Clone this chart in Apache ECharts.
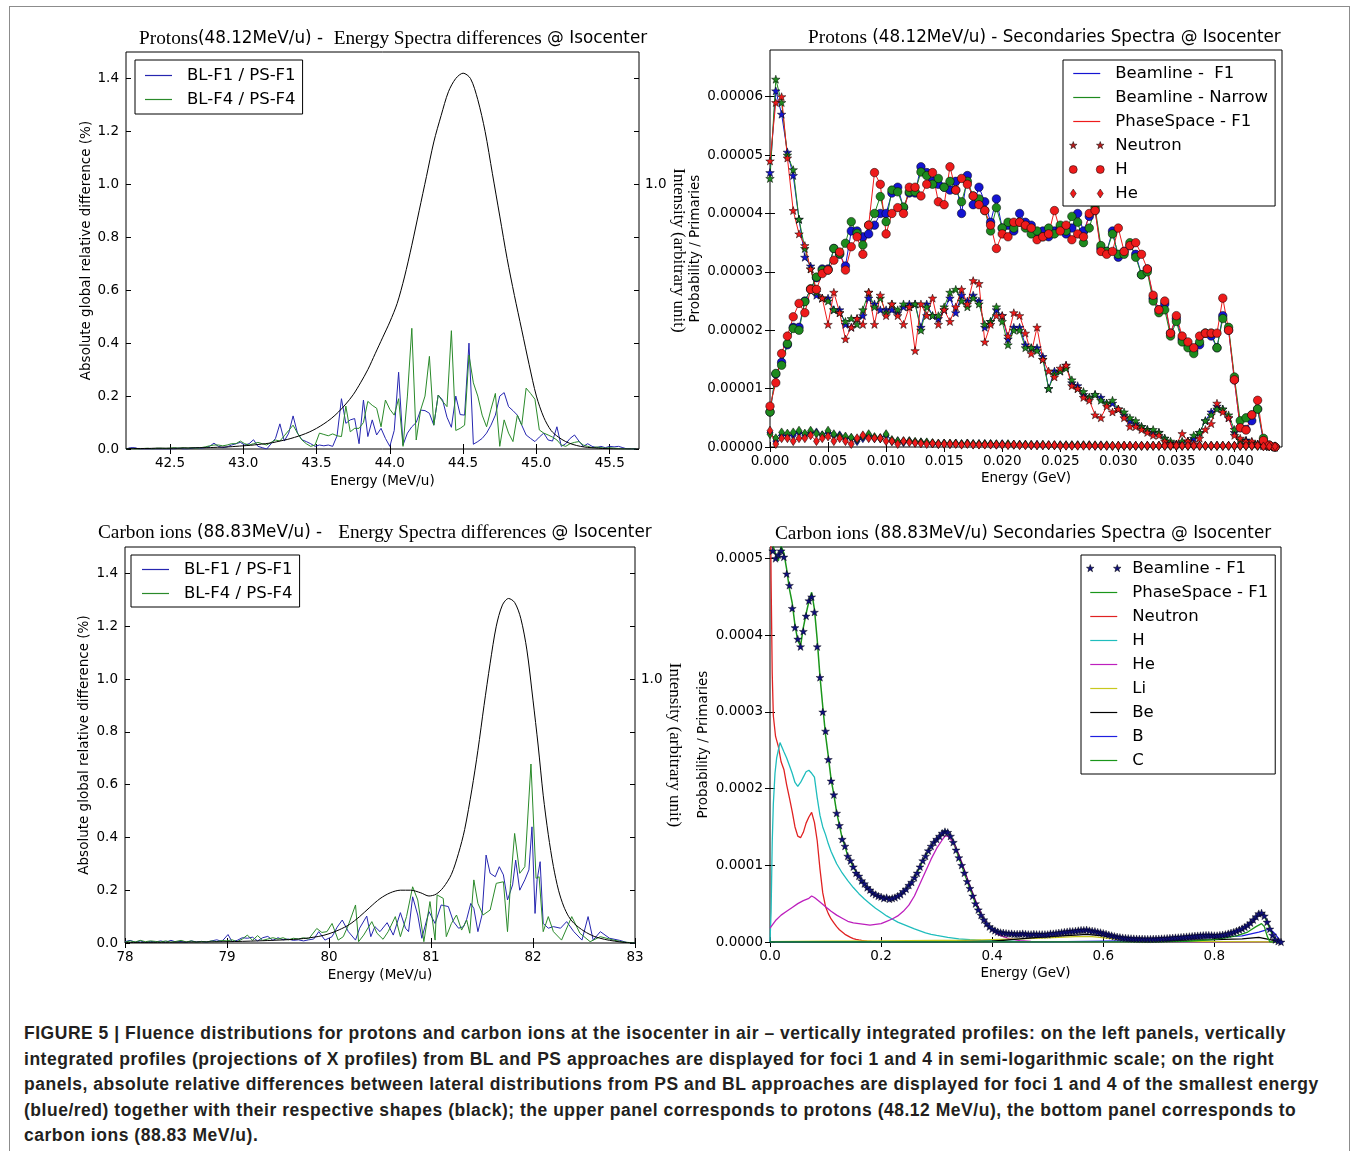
<!DOCTYPE html>
<html>
<head>
<meta charset="utf-8">
<title>Figure 5</title>
<script src="https://cdn.jsdelivr.net/npm/echarts@6/dist/echarts.min.js"></script>
<style>
  html, body { margin: 0; padding: 0; background: #fff; }
  body { width: 1357px; height: 1151px; position: relative; overflow: hidden; }
  .frame { position: absolute; left: 9px; top: 6px; width: 1341px; height: 1160px; border: 1px solid #8c8c8c; box-sizing: border-box; }
  #chart { position: absolute; left: 0; top: 0; width: 1357px; height: 1000px; }
  .caption { position: absolute; left: 24px; top: 1021px; font-family: "Liberation Sans", Arial, sans-serif; font-weight: bold; font-size: 17.5px; letter-spacing: 0.52px; line-height: 25.5px; color: #231f20; white-space: nowrap; }
</style>
</head>
<body>
<div class="frame"></div>
<div id="chart"></div>
<div class="caption">FIGURE 5 | Fluence distributions for protons and carbon ions at the isocenter in air – vertically integrated profiles: on the left panels, vertically<br>integrated profiles (projections of X profiles) from BL and PS approaches are displayed for foci 1 and 4 in semi-logarithmic scale; on the right<br>panels, absolute relative differences between lateral distributions from PS and BL approaches are displayed for foci 1 and 4 of the smallest energy<br>(blue/red) together with their respective shapes (black); the upper panel corresponds to protons (48.12 MeV/u), the bottom panel corresponds to<br>carbon ions (88.83 MeV/u).</div>
<script>
const SANS = 'DejaVu Sans'
const SERIF = 'Liberation Serif'

// top left: protons, relative differences (%), bins of 0.03 MeV/u from 42.2
const protonStart = 42.2
const protonStep = 0.03
const protonDiffF1 = [
  0, 0.005, 0.005, 0, 0, 0, 0, 0, 0, 0,
  0, 0, 0.003, 0, 0, 0.003, 0.005, 0.003, 0.005, 0.01,
  0.022, 0.01, 0.005, 0.008, 0.015, 0.02, 0.025, 0.015, 0.02, 0.035,
  0.01, 0.005, 0, 0.02, 0.04, 0.095, 0.03, 0.06, 0.125, 0.06,
  0.035, 0.028, 0.02, 0.01, 0.015, 0.012, 0.015, 0.01, 0.05, 0.19,
  0.097, 0.11, 0.115, 0.02, 0.185, 0.047, 0.11, 0.053, 0.078, 0.04,
  0.01, 0.07, 0.29, 0.015, 0.06, 0.084, 0.1, 0.147, 0.145, 0.135,
  0.09, 0.204, 0.185, 0.12, 0.082, 0.2, 0.13, 0.128, 0.40, 0.018,
  0.028, 0.04, 0.06, 0.09, 0.128, 0.2, 0.213, 0.16, 0.145, 0.128,
  0.09, 0.053, 0.04, 0.028, 0.045, 0.06, 0.034, 0.03, 0.084, 0.01,
  0.02, 0.04, 0.053, 0.03, 0.01, 0.02, 0.01, 0.005, 0.01, 0.005,
  0.01, 0.008, 0.01, 0.005, 0, 0, 0
]
const protonDiffF4 = [
  0, 0.002, 0, 0, 0.002, 0.003, 0, 0.003, 0.003, 0.002,
  0.003, 0.005, 0.003, 0.005, 0.003, 0.005, 0.003, 0.005, 0.008, 0.012,
  0.015, 0.015, 0.012, 0.015, 0.02, 0.02, 0.03, 0.02, 0.015, 0.02,
  0.025, 0.02, 0.015, 0.025, 0.034, 0.03, 0.05, 0.07, 0.09, 0.06,
  0.034, 0.02, 0.01, 0.015, 0.06, 0.055, 0.05, 0.057, 0.05, 0.047,
  0.162, 0.065, 0.078, 0.078, 0.1, 0.18, 0.165, 0.154, 0.084, 0.185,
  0.15, 0.128, 0.19, 0.01, 0.2, 0.456, 0.034, 0.147, 0.2, 0.35,
  0.09, 0.204, 0.18, 0.16, 0.447, 0.07, 0.078, 0.09, 0.355, 0.25,
  0.2, 0.128, 0.084, 0.15, 0.21, 0.01, 0.11, 0.06, 0.028, 0.128,
  0.09, 0.23, 0.21, 0.188, 0.072, 0.06, 0.053, 0.045, 0.034, 0.015,
  0.01, 0.02, 0.025, 0.028, 0.015, 0.01, 0.005, 0.008, 0.005, 0.003,
  0.005, 0.003, 0.002, 0, 0, 0, 0
]
// black shape, every 0.05 MeV/u from 42.2
const protonShapeStep = 0.05
const protonShape = [
  0.002, 0.002, 0.002, 0.002, 0.003, 0.003, 0.003, 0.003, 0.004, 0.004,
  0.005, 0.005, 0.006, 0.007, 0.008, 0.01, 0.012, 0.014, 0.017, 0.02,
  0.024, 0.03, 0.036, 0.044, 0.053, 0.064, 0.078, 0.095, 0.115, 0.14,
  0.17, 0.205, 0.25, 0.3, 0.36, 0.42, 0.48, 0.55, 0.65, 0.77,
  0.9, 1.03, 1.16, 1.26, 1.35, 1.4, 1.42, 1.4, 1.32, 1.2,
  1.04, 0.88, 0.72, 0.58, 0.45, 0.32, 0.2, 0.12, 0.07, 0.045,
  0.028, 0.017, 0.01, 0.006, 0.004, 0.002, 0.001, 0, 0, 0,
  0
]

// bottom left: carbon ions, [energy, value]
const carbonDiffF1 = [
  [78.00, 0.005], [78.05, 0.01], [78.10, 0.003], [78.15, 0.008], [78.20, 0.002], [78.25, 0.006],
  [78.30, 0.004], [78.35, 0.008], [78.40, 0.003], [78.45, 0.01], [78.50, 0.004], [78.55, 0.006],
  [78.60, 0.002], [78.65, 0.008], [78.70, 0.004], [78.75, 0.006], [78.80, 0.003], [78.85, 0.008],
  [78.90, 0.012], [78.95, 0.006], [79.01, 0.032], [79.05, 0.005], [79.10, 0.01], [79.15, 0.02],
  [79.20, 0.018], [79.25, 0.022], [79.30, 0.008], [79.35, 0.02], [79.40, 0.025], [79.45, 0.01],
  [79.50, 0.02], [79.55, 0.012], [79.60, 0.015], [79.65, 0.01], [79.70, 0.012], [79.75, 0.008],
  [79.80, 0.012], [79.85, 0.015], [79.90, 0.043], [79.96, 0.011], [80.03, 0.024], [80.08, 0.06],
  [80.13, 0.087], [80.19, 0.043], [80.26, 0.011], [80.30, 0.056], [80.37, 0.102], [80.41, 0.024],
  [80.45, 0.062], [80.50, 0.043], [80.57, 0.077], [80.63, 0.03], [80.70, 0.115], [80.75, 0.056],
  [80.78, 0.043], [80.82, 0.175], [80.87, 0.106], [80.91, 0.018], [80.98, 0.119], [81.04, 0.074],
  [81.10, 0.144], [81.17, 0.138], [81.22, 0.081], [81.27, 0.056], [81.32, 0.062], [81.35, 0.09],
  [81.39, 0.15], [81.42, 0.131], [81.46, 0.043], [81.50, 0.106], [81.54, 0.333], [81.58, 0.264],
  [81.63, 0.251], [81.67, 0.289], [81.71, 0.258], [81.75, 0.163], [81.80, 0.22], [81.83, 0.314],
  [81.87, 0.2], [81.92, 0.239], [81.96, 0.277], [81.99, 0.44], [82.02, 0.112], [82.04, 0.239],
  [82.07, 0.308], [82.10, 0.074], [82.15, 0.056], [82.20, 0.062], [82.27, 0.056], [82.33, 0.081],
  [82.40, 0.043], [82.48, 0.011], [82.54, 0.1], [82.59, 0.011], [82.66, 0.043], [82.75, 0.018],
  [82.85, 0.01], [82.92, 0.002], [83.00, 0]
]
const carbonDiffF4 = [
  [78.00, 0.003], [78.05, 0.008], [78.10, 0.004], [78.15, 0.01], [78.20, 0.005], [78.25, 0.008],
  [78.30, 0.006], [78.35, 0.004], [78.40, 0.008], [78.45, 0.003], [78.50, 0.006], [78.55, 0.01],
  [78.60, 0.004], [78.65, 0.008], [78.70, 0.003], [78.75, 0.006], [78.80, 0.004], [78.85, 0.008],
  [78.90, 0.005], [78.95, 0.01], [79.00, 0.008], [79.05, 0.012], [79.10, 0.005], [79.15, 0.015],
  [79.20, 0.03], [79.25, 0.01], [79.30, 0.028], [79.35, 0.01], [79.40, 0.015], [79.45, 0.02],
  [79.50, 0.015], [79.55, 0.02], [79.60, 0.012], [79.65, 0.018], [79.70, 0.015], [79.75, 0.02],
  [79.80, 0.015], [79.88, 0.055], [79.93, 0.04], [79.98, 0.043], [80.03, 0.074], [80.09, 0.011],
  [80.14, 0.024], [80.19, 0.068], [80.26, 0.144], [80.29, 0.005], [80.34, 0.03], [80.42, 0.081],
  [80.47, 0.037], [80.53, 0.014], [80.58, 0.043], [80.65, 0.1], [80.70, 0.024], [80.76, 0.1],
  [80.82, 0.213], [80.87, 0.163], [80.93, 0.005], [80.99, 0.157], [81.04, 0.011], [81.06, 0.182],
  [81.12, 0.169], [81.15, 0.024], [81.20, 0.074], [81.25, 0.106], [81.30, 0.049], [81.35, 0.087],
  [81.38, 0.037], [81.42, 0.239], [81.46, 0.15], [81.51, 0.106], [81.58, 0.125], [81.64, 0.226],
  [81.71, 0.232], [81.75, 0.043], [81.78, 0.226], [81.82, 0.415], [81.87, 0.264], [81.92, 0.289],
  [81.98, 0.678], [82.03, 0.245], [82.06, 0.251], [82.10, 0.043], [82.15, 0.1], [82.20, 0.043],
  [82.28, 0.011], [82.38, 0.1], [82.46, 0.037], [82.56, 0.005], [82.66, 0.024], [82.79, 0.011],
  [82.88, 0.004], [83.00, 0]
]
const carbonShape = [
  [78.0, 0.002], [78.5, 0.003], [79.0, 0.005], [79.3, 0.008], [79.5, 0.011], [79.7, 0.015],
  [79.9, 0.025], [80.0, 0.035], [80.1, 0.05], [80.2, 0.07], [80.3, 0.1], [80.4, 0.135],
  [80.5, 0.168], [80.6, 0.19], [80.7, 0.2], [80.8, 0.2], [80.9, 0.19], [80.98, 0.178],
  [81.05, 0.185], [81.12, 0.21], [81.2, 0.26], [81.27, 0.34], [81.33, 0.43], [81.4, 0.58],
  [81.46, 0.73], [81.52, 0.9], [81.58, 1.06], [81.64, 1.2], [81.7, 1.28], [81.76, 1.305],
  [81.82, 1.29], [81.88, 1.23], [81.94, 1.11], [82.0, 0.92], [82.05, 0.75], [82.1, 0.56],
  [82.15, 0.41], [82.2, 0.29], [82.25, 0.2], [82.3, 0.14], [82.35, 0.1], [82.4, 0.075],
  [82.5, 0.045], [82.6, 0.025], [82.7, 0.014], [82.8, 0.007], [82.9, 0.002], [83.0, 0]
]

// top right: proton secondaries, bins of 0.0005 GeV from 0, values in 1e-6
const secStep = 0.0005
const neutronBLF1 = [
  47, 61, 57, 50.5, 46.5, 39, 32.5, 31, 26, 25.5,
  25.5, 23.5, 23.5, 21, 20.5, 22, 22.5, 25.5, 24.5, 23.5,
  23.5, 23.5, 23, 24, 24.5, 24.5, 20.5, 24.5, 22.5, 22,
  23.5, 25.5, 23, 26, 25, 26, 25, 20.5, 21.5, 23.5,
  22.5, 18.5, 20.5, 20.5, 17.5, 17, 17, 15.5, 10, 13,
  13, 14, 11, 10.5, 9, 8.5, 9, 8.5, 7.5, 7.5,
  6.5, 5.5, 4.5, 4, 3.5, 3, 2.5, 2.5, 1.5, 0.8,
  0.5, 0.8, 1, 1.5, 2.5, 4.5, 6, 7, 6.5, 5,
  2.5, 1.2, 1.2, 0.8, 0.5, 0.3, 0.1, 0
]
const neutronBLNarrow = [
  46, 63, 59, 50, 47.5, 39, 34, 30.5, 26.5, 25.5,
  25, 23.5, 23, 21.5, 22, 21, 23.5, 26.5, 24, 25.5,
  23, 24.5, 23.5, 24.5, 24, 24.5, 20, 24, 22.5, 22.5,
  24, 26.5, 27, 25, 24, 25.5, 24.5, 21, 21.5, 24,
  21.5, 17.5, 20, 20, 17, 17, 16.5, 15, 10, 12.5,
  13, 13.5, 11.5, 10, 9.5, 8.5, 9, 8, 7.5, 8,
  6.5, 6, 5, 4.5, 3.5, 3, 3, 2.5, 1.5, 1,
  0.5, 1, 1, 2, 2.5, 4.5, 5.5, 6.5, 6.5, 5.5,
  3, 1.2, 1, 0.8, 0.5, 0.3, 0.1, 0
]
const neutronPSF1 = [
  49, 59, 60, 49.5, 40.5, 36.5, 34.5, 30.5, 27, 25.5,
  21, 26.5, 23, 18.5, 20.5, 22, 21, 26.5, 21, 26,
  22.5, 24.5, 22.5, 21, 24, 16.5, 24.5, 22.5, 25.5, 21,
  23.5, 21.5, 24, 27, 24.5, 28.5, 28, 18, 21, 22.5,
  22.5, 19, 23, 22.5, 19.5, 16, 20.5, 15, 13, 12,
  13.5, 14, 10.5, 10, 8.5, 8, 5.5, 5, 7, 6,
  6.5, 5, 3.5, 3.5, 3, 2.5, 2, 2, 1, 0.5,
  0.5, 2.3, 1, 0.5, 1.5, 3, 4, 7.5, 6, 5,
  2, 1.5, 1, 1, 0.5, 0.2, 0.1, 0
]
const hydrogenBLF1 = [
  6, 12.5, 14.5, 17.5, 20.5, 20.5, 25, 27, 29, 30.5,
  30.5, 34, 33, 31, 37, 37, 36, 36.5, 38, 40,
  40, 43.5, 44.5, 41, 43.5, 43.5, 48, 47, 45.5, 45,
  44.5, 44, 45.5, 40, 46.5, 41.5, 44.5, 42, 38.5, 42.5,
  37.5, 38, 37, 40, 38.5, 38, 36.5, 37, 36, 37,
  37.5, 36.5, 37.5, 40, 37, 39.5, 40.5, 34, 33.5, 37,
  32.5, 33.5, 34.5, 33, 29.5, 30.5, 25.5, 23.5, 24.5, 19.5,
  22, 18.5, 17.5, 16.5, 17.5, 19.5, 19, 17, 22.5, 20,
  11.5, 3.3, 3, 4.5, 6.5, 1, 0.3, 0
]
const hydrogenBLNarrow = [
  6, 12.6, 14, 17.7, 20.3, 20, 24.9, 27.1, 29.1, 30.3,
  30.3, 34, 33.1, 34.9, 38.6, 36.6, 34.6, 38, 40, 42.9,
  38.6, 44, 43.7, 41.1, 43.7, 43.7, 47.1, 46.5, 45, 46,
  44.5, 45.5, 44, 42, 45.5, 43, 42.5, 40.5, 37, 41,
  37.5, 38.5, 37.5, 38.5, 37.5, 36.5, 37, 36, 37.5, 36.5,
  38, 37, 39.5, 38.5, 35, 37.5, 41, 34.5, 33.5, 36.5,
  33, 33, 35, 32.5, 29.5, 30, 25, 23, 23.5, 19,
  21.5, 18, 17, 16, 18, 19.5, 19.5, 17, 22, 20.5,
  12, 4.5, 5, 5.5, 6.5, 1.5, 0.3, 0
]
const hydrogenPSF1 = [
  7, 11, 16, 19, 22.3, 24.6, 23, 27, 27, 29.7,
  30.3, 32, 33.4, 30.3, 34.3, 36, 33, 38, 47, 45,
  36.5, 40, 41, 40, 44.5, 44.5, 43, 45, 47, 42,
  41.5, 48, 44, 46, 45, 43, 41.5, 40.5, 38, 34,
  36.5, 36, 38.5, 38.5, 38, 37.5, 35.5, 36, 36.5, 40.5,
  37, 38, 35.5, 36.5, 36, 40, 40.5, 33.5, 33, 33.5,
  37.5, 33.5, 34.5, 35, 33, 30.5, 26, 23.5, 25, 19.5,
  22.5, 19, 18, 17, 19, 19.5, 19.5, 19.5, 25.5, 20,
  11.5, 3.3, 2.9, 5.5, 8, 1.1, 0.3, 0
]
const heliumBLF1 = [
  2.5, 1, 2, 2, 2, 2.5, 2, 2.5, 2.5, 2,
  2.5, 2, 2, 1.5, 1.5, 1, 1.5, 2, 1.5, 1.5,
  2, 1, 1, 0.8, 1, 0.8, 0.8, 0.7, 0.6, 0.5,
  0.6, 0.5, 0.6, 0.5, 0.6, 0.5, 0.5, 0.5, 0.5, 0.4,
  0.5, 0.4, 0.4, 0.4, 0.4, 0.3, 0.4, 0.3, 0.3, 0.3,
  0.3, 0.3, 0.3, 0.3, 0.3, 0.3, 0.2, 0.3, 0.2, 0.2,
  0.2, 0.2, 0.2, 0.2, 0.2, 0.2, 0.2, 0.2, 0.2, 0.2,
  0.2, 0.2, 0.2, 0.2, 0.2, 0.2, 0.2, 0.2, 0.2, 0.2,
  0.2, 0.2, 0.2, 0.2, 0.2, 0.2, 0.1, 0.1
]
const heliumBLNarrow = [
  2.2, 1.5, 2.5, 2.3, 2.5, 2.8, 2.3, 2.8, 2.3, 2,
  2.8, 2.2, 1.8, 1.8, 1.6, 1.3, 1.8, 2.2, 1.7, 1.5,
  2.2, 1.2, 1, 1, 1, 0.9, 0.8, 0.8, 0.7, 0.6,
  0.6, 0.6, 0.6, 0.5, 0.6, 0.5, 0.5, 0.5, 0.5, 0.5,
  0.4, 0.5, 0.4, 0.4, 0.4, 0.4, 0.3, 0.4, 0.3, 0.3,
  0.3, 0.3, 0.3, 0.3, 0.3, 0.3, 0.3, 0.2, 0.3, 0.2,
  0.2, 0.2, 0.2, 0.2, 0.2, 0.2, 0.2, 0.2, 0.2, 0.2,
  0.2, 0.2, 0.2, 0.2, 0.2, 0.2, 0.2, 0.2, 0.2, 0.2,
  0.2, 0.2, 0.2, 0.2, 0.2, 0.2, 0.1, 0.1
]
const heliumPSF1 = [
  2.8, 0.5, 1.5, 1.5, 1, 1.5, 1.5, 2, 1, 1.5,
  1.8, 1, 1.5, 1, 0.5, 1.5, 2, 1.5, 1.5, 1.5,
  1, 1, 0.5, 1, 0.8, 0.7, 0.6, 0.5, 0.6, 0.5,
  0.5, 0.5, 0.5, 0.4, 0.5, 0.4, 0.4, 0.4, 0.4, 0.4,
  0.4, 0.3, 0.4, 0.3, 0.3, 0.3, 0.3, 0.3, 0.3, 0.3,
  0.2, 0.2, 0.2, 0.2, 0.2, 0.2, 0.2, 0.2, 0.2, 0.2,
  0.2, 0.2, 0.2, 0.2, 0.2, 0.2, 0.2, 0.2, 0.2, 0.2,
  0.2, 0.2, 0.2, 0.2, 0.2, 0.2, 0.2, 0.2, 0.2, 0.2,
  0.2, 0.2, 0.2, 0.2, 0.2, 0.1, 0.1, 0.1
]

// bottom right: carbon secondaries, totals in bins of 0.005 GeV, values in 1e-4
const carbonSecStep = 0.005
const beamlineTotal = [
  5.25, 5.1, 5.0, 5.05, 5.1, 5.02, 4.8, 4.65, 4.35, 4.1,
  3.95, 3.85, 4.05, 4.25, 4.45, 4.5, 4.3, 3.85, 3.45, 3.0,
  2.75, 2.38, 2.1, 1.92, 1.68, 1.52, 1.34, 1.25, 1.12, 1.06,
  0.98, 0.9, 0.86, 0.8, 0.76, 0.71, 0.68, 0.64, 0.62, 0.6,
  0.59, 0.57, 0.58, 0.56, 0.57, 0.58, 0.6, 0.62, 0.66, 0.69,
  0.74, 0.78, 0.84, 0.9, 0.98, 1.06, 1.12, 1.19, 1.25, 1.3,
  1.34, 1.38, 1.42, 1.44, 1.43, 1.38, 1.3, 1.2, 1.1, 1.0,
  0.9, 0.79, 0.7, 0.6, 0.5, 0.42, 0.35, 0.29, 0.24, 0.2,
  0.17, 0.15, 0.135, 0.125, 0.12, 0.115, 0.11, 0.11, 0.105, 0.105,
  0.105, 0.11, 0.105, 0.1, 0.1, 0.105, 0.1, 0.1, 0.1, 0.1,
  0.1, 0.11, 0.11, 0.115, 0.12, 0.125, 0.13, 0.135, 0.14, 0.14,
  0.145, 0.15, 0.155, 0.155, 0.16, 0.15, 0.145, 0.14, 0.13, 0.125,
  0.115, 0.105, 0.095, 0.085, 0.075, 0.068, 0.062, 0.057, 0.053, 0.05,
  0.047, 0.045, 0.043, 0.042, 0.041, 0.04, 0.04, 0.04, 0.041, 0.042,
  0.043, 0.045, 0.047, 0.05, 0.052, 0.055, 0.058, 0.06, 0.063, 0.066,
  0.07, 0.073, 0.076, 0.08, 0.083, 0.085, 0.088, 0.09, 0.09, 0.088,
  0.085, 0.085, 0.09, 0.095, 0.1, 0.11, 0.12, 0.13, 0.145, 0.16,
  0.175, 0.195, 0.22, 0.25, 0.29, 0.33, 0.37, 0.38, 0.34, 0.26,
  0.17, 0.09, 0.03, 0.01, 0
]
const phaseSpaceTotal = [
  5.3, 5.18, 5.06, 4.97, 5.16, 5.07, 4.86, 4.6, 4.42, 4.13,
  3.93, 3.86, 4.1, 4.28, 4.44, 4.56, 4.34, 3.94, 3.46, 3.07,
  2.7, 2.42, 2.12, 1.92, 1.69, 1.52, 1.35, 1.25, 1.12, 1.06,
  0.97, 0.92, 0.85, 0.81, 0.75, 0.72, 0.67, 0.65, 0.61, 0.61,
  0.58, 0.58, 0.56, 0.57, 0.55, 0.59, 0.59, 0.63, 0.65, 0.7,
  0.73, 0.79, 0.83, 0.91, 0.97, 1.07, 1.11, 1.2, 1.24, 1.31,
  1.33, 1.39, 1.41, 1.46, 1.42, 1.39, 1.29, 1.21, 1.09, 1.01,
  0.89, 0.8, 0.69, 0.61, 0.49, 0.43, 0.34, 0.3, 0.23, 0.21,
  0.16, 0.155, 0.13, 0.13, 0.115, 0.12, 0.105, 0.115, 0.1, 0.11,
  0.1, 0.115, 0.1, 0.105, 0.095, 0.11, 0.095, 0.105, 0.1, 0.1,
  0.105, 0.105, 0.115, 0.11, 0.125, 0.12, 0.135, 0.13, 0.145, 0.135,
  0.15, 0.145, 0.16, 0.15, 0.165, 0.15, 0.145, 0.135, 0.135, 0.12,
  0.115, 0.1, 0.1, 0.082, 0.078, 0.066, 0.064, 0.055, 0.055, 0.048,
  0.048, 0.043, 0.045, 0.04, 0.043, 0.038, 0.042, 0.039, 0.043, 0.04,
  0.045, 0.043, 0.049, 0.048, 0.054, 0.053, 0.06, 0.058, 0.065, 0.064,
  0.072, 0.071, 0.078, 0.078, 0.085, 0.083, 0.09, 0.088, 0.093, 0.086,
  0.087, 0.083, 0.092, 0.093, 0.102, 0.108, 0.122, 0.128, 0.148, 0.157,
  0.178, 0.192, 0.225, 0.245, 0.295, 0.325, 0.375, 0.385, 0.345, 0.255,
  0.175, 0.085, 0.035, 0.008, 0
]
const neutronCarbon = [
  [0, 6.5], [0.002, 4.7], [0.004, 3.5], [0.006, 2.95], [0.01, 2.68], [0.015, 2.55], [0.02, 2.35],
  [0.025, 2.25], [0.03, 2.05], [0.035, 1.88], [0.04, 1.7], [0.045, 1.5], [0.05, 1.38], [0.055, 1.36],
  [0.06, 1.43], [0.065, 1.55], [0.07, 1.63], [0.075, 1.69], [0.08, 1.56], [0.085, 1.32], [0.09, 0.95],
  [0.095, 0.64], [0.1, 0.46], [0.105, 0.37], [0.11, 0.3], [0.115, 0.25], [0.12, 0.2], [0.125, 0.16],
  [0.13, 0.13], [0.135, 0.1], [0.14, 0.08], [0.145, 0.06], [0.15, 0.045], [0.155, 0.035], [0.16, 0.027],
  [0.165, 0.02], [0.17, 0.015], [0.175, 0.01], [0.18, 0.007], [0.185, 0.004], [0.19, 0.002], [0.2, 0],
  [0.92, 0]
]
const hydrogenCarbon = [
  [0, 0], [0.002, 0.4], [0.004, 1.3], [0.006, 1.8], [0.009, 2.2], [0.012, 2.4], [0.015, 2.5],
  [0.018, 2.6], [0.021, 2.55], [0.025, 2.48], [0.03, 2.4], [0.035, 2.3], [0.04, 2.2], [0.045, 2.08],
  [0.05, 2.03], [0.055, 2.08], [0.06, 2.15], [0.065, 2.22], [0.07, 2.24], [0.075, 2.2], [0.08, 2.15],
  [0.085, 1.88], [0.09, 1.65], [0.095, 1.5], [0.1, 1.4], [0.105, 1.28], [0.11, 1.18], [0.115, 1.1],
  [0.12, 1.02], [0.13, 0.9], [0.14, 0.8], [0.15, 0.71], [0.16, 0.63], [0.17, 0.56], [0.18, 0.5],
  [0.19, 0.44], [0.2, 0.39], [0.21, 0.34], [0.22, 0.3], [0.23, 0.26], [0.24, 0.23], [0.25, 0.2],
  [0.26, 0.17], [0.27, 0.145], [0.28, 0.12], [0.29, 0.1], [0.3, 0.085], [0.32, 0.06], [0.34, 0.042],
  [0.36, 0.03], [0.38, 0.022], [0.4, 0.016], [0.43, 0.01], [0.46, 0.005], [0.5, 0.002], [0.92, 0]
]
const heliumCarbon = [
  [0, 0.18], [0.01, 0.28], [0.02, 0.35], [0.03, 0.4], [0.04, 0.45], [0.05, 0.5], [0.06, 0.54],
  [0.07, 0.57], [0.075, 0.6], [0.08, 0.58], [0.09, 0.52], [0.1, 0.46], [0.11, 0.4], [0.12, 0.35],
  [0.13, 0.31], [0.14, 0.27], [0.15, 0.25], [0.16, 0.24], [0.17, 0.23], [0.18, 0.22], [0.19, 0.23],
  [0.2, 0.24], [0.21, 0.27], [0.22, 0.3], [0.23, 0.34], [0.24, 0.4], [0.25, 0.48], [0.26, 0.6],
  [0.27, 0.76], [0.28, 0.92], [0.29, 1.08], [0.3, 1.22], [0.31, 1.33], [0.315, 1.38], [0.32, 1.38],
  [0.33, 1.3], [0.34, 1.14], [0.35, 0.94], [0.36, 0.73], [0.37, 0.54], [0.38, 0.37], [0.39, 0.24],
  [0.4, 0.15], [0.41, 0.1], [0.42, 0.07], [0.43, 0.045], [0.44, 0.03], [0.45, 0.018], [0.47, 0.008],
  [0.5, 0.003], [0.92, 0]
]
const lithiumCarbon = [
  [0, 0.005], [0.1, 0.01], [0.2, 0.015], [0.3, 0.02], [0.35, 0.02], [0.4, 0.03], [0.45, 0.04],
  [0.5, 0.055], [0.55, 0.07], [0.58, 0.07], [0.62, 0.04], [0.65, 0.02], [0.7, 0.01], [0.8, 0.005],
  [0.92, 0]
]
const berylliumCarbon = [
  [0, 0], [0.3, 0], [0.4, 0.01], [0.45, 0.04], [0.5, 0.07], [0.55, 0.09], [0.57, 0.1], [0.6, 0.08],
  [0.65, 0.035], [0.7, 0.02], [0.75, 0.025], [0.8, 0.03], [0.85, 0.04], [0.88, 0.06], [0.9, 0.03],
  [0.92, 0]
]
const boronCarbon = [
  [0, 0], [0.5, 0], [0.6, 0.01], [0.7, 0.02], [0.75, 0.04], [0.8, 0.06], [0.85, 0.08], [0.88, 0.13],
  [0.9, 0.17], [0.91, 0.1], [0.92, 0]
]
const carbonCarbon = [
  [0, 0], [0.7, 0], [0.75, 0.01], [0.8, 0.03], [0.84, 0.08], [0.86, 0.13], [0.875, 0.2], [0.885, 0.24],
  [0.89, 0.2], [0.895, 0.08], [0.9, 0], [0.92, 0]
]

// tick labels
const protonTicksX = [42.5, 43.0, 43.5, 44.0, 44.5, 45.0, 45.5]
const carbonTicksX = [78, 79, 80, 81, 82, 83]
const diffTicksY = [0, 0.2, 0.4, 0.6, 0.8, 1.0, 1.2, 1.4]
const secTicksX = [0, 0.005, 0.01, 0.015, 0.02, 0.025, 0.03, 0.035, 0.04]
const secTicksY = [0, 10, 20, 30, 40, 50, 60]
const carbonSecTicksX = [0, 0.2, 0.4, 0.6, 0.8]
const carbonSecTicksY = [0, 1, 2, 3, 4, 5]

const BLUE = '#2626b0'
const GREEN = '#2a8a2a'
const M_BLUE = '#1414d2'
const M_GREEN = '#1e8a1e'
const M_RED = '#ee1b1b'

const STAR = 'path://M0,-1L0.235,-0.324L0.951,-0.309L0.38,0.124L0.588,0.809L0,0.4L-0.588,0.809L-0.38,0.124L-0.951,-0.309L-0.235,-0.324Z'
const ICON_BOX = 'path://M0,0M35,14'
const LINE_ICON = ICON_BOX + 'M4,6.4h27v1.2h-27z'
const STARS_ICON = ICON_BOX +
  'M4,3L4.94,5.7L7.8,5.76L5.52,7.5L6.35,10.24L4,8.6L1.65,10.24L2.48,7.5L0.2,5.76L3.06,5.7Z' +
  'M31,3L31.94,5.7L34.8,5.76L32.52,7.5L33.35,10.24L31,8.6L28.65,10.24L29.48,7.5L27.2,5.76L30.06,5.7Z'
const CIRCLES_ICON = ICON_BOX + 'M0,7a4,4 0 1,0 8,0a4,4 0 1,0 -8,0zM27,7a4,4 0 1,0 8,0a4,4 0 1,0 -8,0z'
const DIAMONDS_ICON = ICON_BOX + 'M4,2.5L7,7L4,11.5L1,7ZM31,2.5L34,7L31,11.5L28,7Z'

const binned = (start, step, values) => values.map((v, i) => [+(start + step * i).toFixed(5), v])

const font = { fontFamily: SANS, fontSize: 13.5, color: '#000' }
const tick = { show: true, inside: true, length: 5, lineStyle: { color: '#000', width: 1 } }

function xPair (grid, min, max, ticks, fmt, name, gap) {
  return [
    {
      type: 'value', gridIndex: grid, position: 'bottom', min, max,
      name, nameLocation: 'middle', nameGap: gap, nameTextStyle: font,
      axisLine: { show: false }, splitLine: { show: false },
      axisTick: { ...tick, customValues: ticks },
      axisLabel: { ...font, margin: 7, customValues: ticks, formatter: fmt }
    },
    {
      type: 'value', gridIndex: grid, position: 'top', min, max,
      axisLine: { show: false }, splitLine: { show: false },
      axisTick: { ...tick, customValues: ticks },
      axisLabel: { show: false, customValues: ticks }
    }
  ]
}

function yPair (grid, min, max, ticks, fmt, name, gap, intensityGap) {
  const left = {
    type: 'value', gridIndex: grid, position: 'left', min, max,
    name, nameLocation: 'middle', nameGap: gap, nameRotate: 90, nameTextStyle: font,
    axisLine: { show: false }, splitLine: { show: false },
    axisTick: { ...tick, customValues: ticks },
    axisLabel: { ...font, margin: 7, customValues: ticks, formatter: fmt }
  }
  const right = {
    type: 'value', gridIndex: grid, position: 'right', min, max,
    axisLine: { show: false }, splitLine: { show: false },
    axisTick: { ...tick, customValues: ticks },
    axisLabel: { show: false, customValues: ticks }
  }
  if (intensityGap) {
    right.name = 'Intensity (arbitrary unit)'
    right.nameLocation = 'middle'
    right.nameGap = intensityGap
    right.nameRotate = -90
    right.nameTextStyle = { fontFamily: SERIF, fontSize: 17, color: '#000' }
    right.axisLabel = { ...font, show: true, margin: 6, customValues: [1.0], formatter: v => v.toFixed(1) }
  }
  return [left, right]
}

function legendBox (left, top, padding, data) {
  return {
    orient: 'vertical', left, top, padding, data,
    itemWidth: 35, itemHeight: 14, itemGap: 7,
    backgroundColor: '#fff', borderColor: '#000', borderWidth: 1,
    selectedMode: false,
    formatter: n => n.slice(2),
    textStyle: { fontFamily: SANS, fontSize: 16.5, color: '#000', padding: [0, 0, 0, 6] }
  }
}

const lineItem = (name, color) => ({ name, icon: LINE_ICON, itemStyle: { color, borderWidth: 0 } })
const markItem = (name, icon, color) => ({ name, icon, itemStyle: { color, borderColor: '#000', borderWidth: 0.5 } })

function plainLine (name, data, color, axis, width) {
  return {
    type: 'line', name, data, xAxisIndex: axis * 2, yAxisIndex: axis * 2,
    symbol: 'none', lineStyle: { color, width: width || 1 }, itemStyle: { color }
  }
}

function markLine (name, values, color, symbol, size) {
  return {
    type: 'line', name, data: binned(0, secStep, values), xAxisIndex: 2, yAxisIndex: 2,
    symbol, symbolSize: size, showSymbol: true, showAllSymbol: true,
    lineStyle: { color, width: 1 }, itemStyle: { color, borderColor: '#000', borderWidth: 0.5 }
  }
}

const titleRich = {
  s: { fontFamily: SERIF, fontSize: 19.3, fontWeight: 'normal', color: '#000' },
  a: { fontFamily: SANS, fontSize: 16.8, fontWeight: 'normal', color: '#000' }
}
const titleStyle = { fontWeight: 'normal', color: '#000', rich: titleRich }

const series = [
  // top left
  plainLine('a|BL-F1 / PS-F1', binned(protonStart, protonStep, protonDiffF1), BLUE, 0),
  plainLine('a|BL-F4 / PS-F4', binned(protonStart, protonStep, protonDiffF4), GREEN, 0),
  { ...plainLine('a|shape', binned(protonStart, protonShapeStep, protonShape), '#000', 0), smooth: 0.3 },
  // top right
  plainLine('b|Beamline -  F1', [], M_BLUE, 1),
  plainLine('b|Beamline - Narrow', [], M_GREEN, 1),
  plainLine('b|PhaseSpace - F1', [], M_RED, 1),
  plainLine('b|Neutron', [], M_RED, 1),
  plainLine('b|H', [], M_RED, 1),
  plainLine('b|He', [], M_RED, 1),
  markLine('Neutron BL-F1', neutronBLF1, M_BLUE, STAR, [8.5, 8]),
  markLine('H BL-F1', hydrogenBLF1, M_BLUE, 'circle', 8.5),
  markLine('He BL-F1', heliumBLF1, M_BLUE, 'diamond', [6, 9]),
  markLine('Neutron BL-Narrow', neutronBLNarrow, M_GREEN, STAR, [8.5, 8]),
  markLine('H BL-Narrow', hydrogenBLNarrow, M_GREEN, 'circle', 8.5),
  markLine('He BL-Narrow', heliumBLNarrow, M_GREEN, 'diamond', [6, 9]),
  markLine('Neutron PS-F1', neutronPSF1, M_RED, STAR, [8.5, 8]),
  markLine('H PS-F1', hydrogenPSF1, M_RED, 'circle', 8.5),
  markLine('He PS-F1', heliumPSF1, M_RED, 'diamond', [6, 9]),
  // bottom left
  plainLine('c|BL-F1 / PS-F1', carbonDiffF1, BLUE, 2),
  plainLine('c|BL-F4 / PS-F4', carbonDiffF4, GREEN, 2),
  { ...plainLine('c|shape', carbonShape, '#000', 2), smooth: 0.3 },
  // bottom right
  {
    type: 'line', name: 'd|Beamline - F1', data: binned(0, carbonSecStep, beamlineTotal),
    xAxisIndex: 6, yAxisIndex: 6, symbol: STAR, symbolSize: [8, 7.5], showAllSymbol: true,
    lineStyle: { width: 0 }, itemStyle: { color: '#10107a', borderColor: '#000', borderWidth: 0.4 }
  },
  plainLine('d|PhaseSpace - F1', binned(0, carbonSecStep, phaseSpaceTotal), '#1a961a', 3, 1.5),
  plainLine('d|Neutron', neutronCarbon, '#e02222', 3, 1.3),
  plainLine('d|H', hydrogenCarbon, '#1fbdbd', 3, 1.3),
  plainLine('d|He', heliumCarbon, '#bd1fbd', 3, 1.3),
  plainLine('d|Li', lithiumCarbon, '#c8c81e', 3, 1.3),
  plainLine('d|Be', berylliumCarbon, '#000', 3, 1.3),
  plainLine('d|B', boronCarbon, '#1f1fe0', 3, 1.3),
  plainLine('d|C', carbonCarbon, '#1a961a', 3, 1.3)
]

const chart = echarts.init(document.getElementById('chart'))
chart.setOption({
  animation: false,
  textStyle: { fontFamily: SANS },
  title: [
    { left: 139, top: 29, padding: 0, text: '{s|Protons}{a|(48.12MeV/u) -  }{s|Energy Spectra differences}{a| @ Isocenter}', textStyle: titleStyle },
    { left: 808, top: 28, padding: 0, text: '{s|Protons}{a| (48.12MeV/u) - Secondaries Spectra @ Isocenter}', textStyle: titleStyle },
    { left: 98, top: 523, padding: 0, text: '{s|Carbon ions}{a| (88.83MeV/u) -   }{s|Energy Spectra differences}{a| @ Isocenter}', textStyle: titleStyle },
    { left: 775, top: 524, padding: 0, text: '{s|Carbon ions}{a| (88.83MeV/u) Secondaries Spectra @ Isocenter}', textStyle: titleStyle }
  ],
  grid: [
    { left: 126, top: 52, width: 513, height: 397, show: true, borderColor: '#000', borderWidth: 1 },
    { left: 770, top: 50, width: 512, height: 397, show: true, borderColor: '#000', borderWidth: 1 },
    { left: 125, top: 547, width: 510, height: 396, show: true, borderColor: '#000', borderWidth: 1 },
    { left: 770, top: 547, width: 511, height: 395, show: true, borderColor: '#000', borderWidth: 1 }
  ],
  xAxis: [
    ...xPair(0, 42.2, 45.7, protonTicksX, v => v.toFixed(1), 'Energy (MeV/u)', 25),
    ...xPair(1, 0, 0.0441, secTicksX, v => v.toFixed(3), 'Energy (GeV)', 24),
    ...xPair(2, 78, 83, carbonTicksX, v => String(v), 'Energy (MeV/u)', 25),
    ...xPair(3, 0, 0.92, carbonSecTicksX, v => v.toFixed(1), 'Energy (GeV)', 24)
  ],
  yAxis: [
    ...yPair(0, 0, 1.5, diffTicksY, v => v.toFixed(1), 'Absolute global relative difference (%)', 32, 28),
    ...yPair(1, 0, 68, secTicksY, v => (v / 1e6).toFixed(5), 'Probability / Primaries', 68),
    ...yPair(2, 0, 1.5, diffTicksY, v => v.toFixed(1), 'Absolute global relative difference (%)', 34, 29),
    ...yPair(3, 0, 5.15, carbonSecTicksY, v => (v / 1e4).toFixed(4), 'Probability / Primaries', 60)
  ],
  legend: [
    legendBox(135, 60, [7, 7, 6, 6], [lineItem('a|BL-F1 / PS-F1', BLUE), lineItem('a|BL-F4 / PS-F4', GREEN)]),
    legendBox(1063, 60, [5, 7, 4, 6], [
      lineItem('b|Beamline -  F1', M_BLUE),
      lineItem('b|Beamline - Narrow', M_GREEN),
      lineItem('b|PhaseSpace - F1', M_RED),
      markItem('b|Neutron', STARS_ICON, '#b41c1c'),
      markItem('b|H', CIRCLES_ICON, M_RED),
      markItem('b|He', DIAMONDS_ICON, M_RED)
    ]),
    legendBox(131, 555, [6, 7, 5, 7], [lineItem('c|BL-F1 / PS-F1', BLUE), lineItem('c|BL-F4 / PS-F4', GREEN)]),
    legendBox(1081, 555, [5, 7, 5, 5], [
      markItem('d|Beamline - F1', STARS_ICON, '#10107a'),
      lineItem('d|PhaseSpace - F1', '#1a961a'),
      lineItem('d|Neutron', '#e02222'),
      lineItem('d|H', '#1fbdbd'),
      lineItem('d|He', '#bd1fbd'),
      lineItem('d|Li', '#c8c81e'),
      lineItem('d|Be', '#000'),
      lineItem('d|B', '#1f1fe0'),
      lineItem('d|C', '#1a961a')
    ])
  ],
  series
})
</script>
</body>
</html>
